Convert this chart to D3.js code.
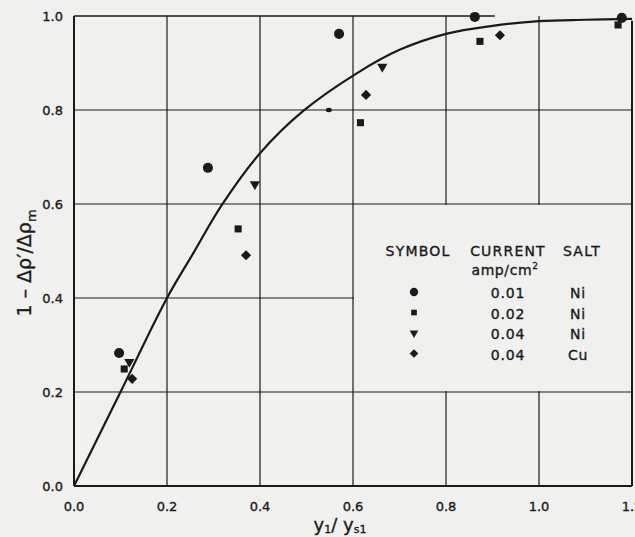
<!DOCTYPE html>
<html>
<head>
<meta charset="utf-8">
<script src="https://cdn.jsdelivr.net/npm/d3@7"></script>
<style>
  html, body { margin: 0; padding: 0; background: #f0f0ef; }
  svg { display: block; }
  text { font-family: "DejaVu Sans", sans-serif; fill: #1a1a1a; stroke: #1a1a1a; stroke-width: 0.35px; }
</style>
</head>
<body>
<div id="chart"></div>
<script>
// values
const xTicks = [0, 0.2, 0.4, 0.6, 0.8, 1.0, 1.2];
const yTicks = [0, 0.2, 0.4, 0.6, 0.8, 1.0];

const curveX = [0, 0.1, 0.2, 0.257, 0.318, 0.4, 0.493, 0.608, 0.7, 0.8, 0.9, 1.0, 1.1, 1.2];
const curveY = [0, 0.2, 0.4, 0.496, 0.598, 0.708, 0.798, 0.878, 0.928, 0.962, 0.979, 0.989, 0.992, 0.994];

const circleX = [0.097, 0.288, 0.570, 0.862, 1.178];
const circleY = [0.283, 0.677, 0.962, 0.998, 0.996];
const squareX = [0.108, 0.353, 0.616, 0.873, 1.170];
const squareY = [0.249, 0.547, 0.773, 0.946, 0.981];
const triX = [0.119, 0.389, 0.663];
const triY = [0.264, 0.642, 0.892];
const diamondX = [0.125, 0.370, 0.628, 0.916];
const diamondY = [0.228, 0.491, 0.832, 0.959];
const dotX = [0.548];
const dotY = [0.800];

const legendSymbols = ["circle", "square", "triangle", "diamond"];
const legendCurrent = ["0.01", "0.02", "0.04", "0.04"];
const legendSalt = ["Ni", "Ni", "Ni", "Cu"];

const width = 635, height = 537;
const ink = "#1a1a1a";
const bg = "#f0f0ef";

const svg = d3.select("#chart").append("svg")
  .attr("width", width)
  .attr("height", height);

const x = d3.scaleLinear().domain([0, 1.2]).range([74, 632]);
const y = d3.scaleLinear().domain([0, 1.0]).range([486, 16]);

// grid
svg.append("g").selectAll("line")
  .data(yTicks.filter(d => d > 0 && d < 1))
  .enter().append("line")
  .attr("x1", x(0)).attr("x2", x(1.2))
  .attr("y1", d => y(d)).attr("y2", d => y(d))
  .attr("stroke", ink).attr("stroke-width", 1.2);

svg.append("g").selectAll("line")
  .data(xTicks.filter(d => d > 0 && d < 1.2))
  .enter().append("line")
  .attr("x1", d => x(d)).attr("x2", d => x(d))
  .attr("y1", y(1.0)).attr("y2", y(0))
  .attr("stroke", ink).attr("stroke-width", 1.2);

// blank legend panel (no grid inside)
svg.append("rect")
  .attr("x", x(0.6) + 1).attr("y", y(0.6) + 1)
  .attr("width", x(1.2) - x(0.6) - 2)
  .attr("height", y(0.2) - y(0.6) - 2)
  .attr("fill", bg);

// frame
svg.append("line").attr("x1", x(0)).attr("x2", x(0)).attr("y1", y(1.0)).attr("y2", y(0))
  .attr("stroke", ink).attr("stroke-width", 2);
svg.append("line").attr("x1", x(0)).attr("x2", x(1.2)).attr("y1", y(0)).attr("y2", y(0))
  .attr("stroke", ink).attr("stroke-width", 2.2);
svg.append("line").attr("x1", x(1.2)).attr("x2", x(1.2)).attr("y1", y(0.99)).attr("y2", y(0))
  .attr("stroke", ink).attr("stroke-width", 2);
svg.append("line").attr("x1", x(0)).attr("x2", x(0.905)).attr("y1", y(1.0)).attr("y2", y(1.0))
  .attr("stroke", ink).attr("stroke-width", 1.4);

// tick labels
svg.append("g").selectAll("text")
  .data(xTicks).enter().append("text")
  .attr("x", d => x(d))
  .attr("y", 511)
  .attr("text-anchor", "middle")
  .style("font-size", "13px")
  .text(d => d.toFixed(1));

svg.append("g").selectAll("text")
  .data(yTicks).enter().append("text")
  .attr("x", 63)
  .attr("y", d => y(d) + 5)
  .attr("text-anchor", "end")
  .style("font-size", "13px")
  .text(d => d.toFixed(1));

// axis titles
let xt = svg.append("text")
  .attr("x", 340).attr("y", 531)
  .attr("text-anchor", "middle")
  .style("font-size", "18px");
xt.append("tspan").text("y");
xt.append("tspan").attr("dy", 2).style("font-size", "11px").text("1");
xt.append("tspan").attr("dy", -2).text("/ y");
xt.append("tspan").attr("dy", 2).style("font-size", "11px").text("s1");

let yt = svg.append("text")
  .attr("transform", "translate(31,263) rotate(-90)")
  .attr("text-anchor", "middle")
  .style("font-size", "19px");
yt.append("tspan").text("1 \u2013 \u0394\u03C1\u2032/\u0394\u03C1");
yt.append("tspan").attr("dy", 5).style("font-size", "13px").text("m");

// curve
const line = d3.line()
  .x(d => x(d[0]))
  .y(d => y(d[1]))
  .curve(d3.curveCatmullRom.alpha(0.5));

svg.append("path")
  .datum(curveX.map((v, i) => [v, curveY[i]]))
  .attr("d", line)
  .attr("fill", "none")
  .attr("stroke", ink)
  .attr("stroke-width", 2.2);

// markers
const shapes = {
  circle: d3.symbol().type(d3.symbolCircle),
  square: d3.symbol().type(d3.symbolSquare),
  triangle: d3.symbol().type(d3.symbolTriangle),
  diamond: d3.symbol().type(d3.symbolSquare)
};
const rot = { circle: 0, square: 0, triangle: 180, diamond: 45 };

function drawSeries(xs, ys, kind, size) {
  svg.append("g").selectAll("path")
    .data(xs.map((v, i) => [v, ys[i]]))
    .enter().append("path")
    .attr("d", shapes[kind].size(size)())
    .attr("transform", d => "translate(" + x(d[0]) + "," + y(d[1]) + ") rotate(" + rot[kind] + ")")
    .attr("fill", ink);
}

drawSeries(circleX, circleY, "circle", 80);
drawSeries(squareX, squareY, "square", 50);
drawSeries(triX, triY, "triangle", 45);
drawSeries(diamondX, diamondY, "diamond", 52);

svg.append("g").selectAll("ellipse")
  .data(dotX.map((v, i) => [v, dotY[i]]))
  .enter().append("ellipse")
  .attr("cx", d => x(d[0])).attr("cy", d => y(d[1]))
  .attr("rx", 3).attr("ry", 2.2)
  .attr("fill", ink);

// legend
const lg = svg.append("g");
lg.append("text").attr("x", 418).attr("y", 256).attr("text-anchor", "middle")
  .style("font-size", "14px").style("letter-spacing", "1.2px").text("SYMBOL");
lg.append("text").attr("x", 508).attr("y", 256).attr("text-anchor", "middle")
  .style("font-size", "14px").style("letter-spacing", "1.2px").text("CURRENT");
lg.append("text").attr("x", 582).attr("y", 256).attr("text-anchor", "middle")
  .style("font-size", "14px").style("letter-spacing", "1.2px").text("SALT");
let unit = lg.append("text").attr("x", 505).attr("y", 275).attr("text-anchor", "middle")
  .style("font-size", "14px").style("letter-spacing", "0.6px");
unit.append("tspan").text("amp/cm");
unit.append("tspan").attr("dy", -6).style("font-size", "9px").text("2");

const legendSizes = { circle: 55, square: 32, triangle: 32, diamond: 38 };
legendSymbols.forEach((s, i) => {
  let cy = 292 + i * 20.5;
  lg.append("path")
    .attr("d", shapes[s].size(legendSizes[s])())
    .attr("transform", "translate(414," + cy + ") rotate(" + rot[s] + ")")
    .attr("fill", ink);
  lg.append("text").attr("x", 508).attr("y", cy + 6).attr("text-anchor", "middle")
    .style("font-size", "14px").style("letter-spacing", "0.8px").text(legendCurrent[i]);
  lg.append("text").attr("x", 578).attr("y", cy + 6).attr("text-anchor", "middle")
    .style("font-size", "14px").style("letter-spacing", "0.8px").text(legendSalt[i]);
});
</script>
</body>
</html>
